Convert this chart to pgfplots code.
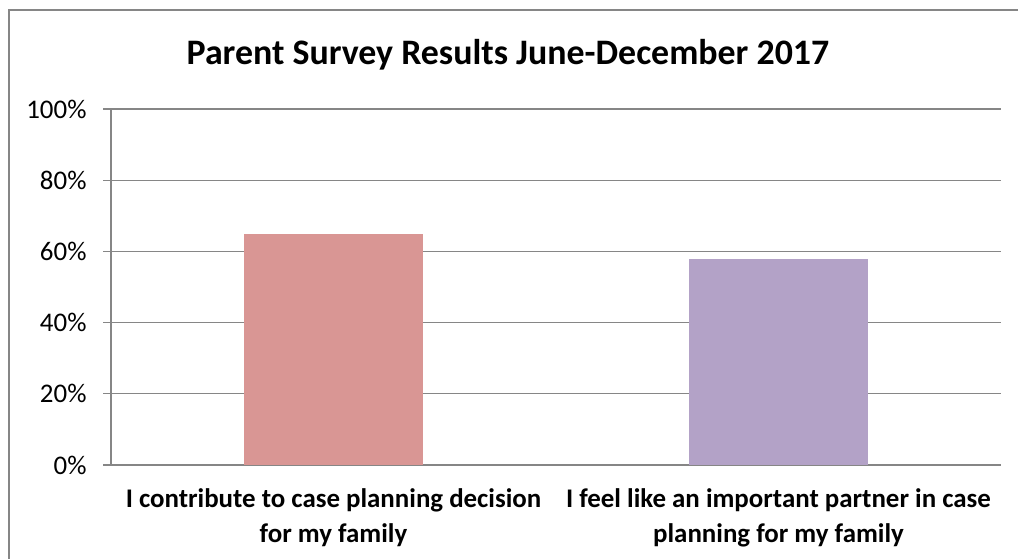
\documentclass[border=0pt]{standalone}
\usepackage{pgfplots}
\pgfplotsset{compat=1.18}
\usepackage{fontspec}
\setmainfont{Carlito}
\definecolor{barA}{HTML}{D99694}
\definecolor{barB}{HTML}{B3A2C7}
\definecolor{gridgray}{HTML}{868686}
\begin{document}
\begin{tikzpicture}
\useasboundingbox (-111bp,-94bp) rectangle (907bp,465bp);
\begin{axis}[
	anchor=south west, at={(0,0)},
	scale only axis,
	width=890bp, height=356bp,
	xmin=-0.5, xmax=1.5,
	ymin=0, ymax=100,
	axis x line=bottom, axis y line=left,
	axis line style={gridgray, line width=1.2bp, -},
	ytick={0,20,40,60,80,100},
	yticklabels={0\%,20\%,40\%,60\%,80\%,100\%},
	ymajorgrids,
	grid style={gridgray, line width=1.2bp},
	tick align=outside,
	major tick length=8bp,
	tick style={gridgray, line width=1.2bp},
	xtick={0,1},
	xticklabels={I contribute to case planning decision\\for my family,
		I feel like an important partner in case\\planning for my family},
	x tick style={draw=none},
	extra x ticks={-0.5,0.5,1.5},
	extra x tick labels={},
	extra x tick style={tick style={gridgray, line width=1.2bp}},
	xticklabel style={font=\fontsize{27}{35}\selectfont\bfseries, align=center, anchor=north, yshift=-12bp},
	yticklabel style={font=\fontsize{27}{32}\selectfont, xshift=-13bp},
	ybar, bar width=179bp,
	bar shift=0pt,
]
\addplot[fill=barA, draw=none] coordinates {(0,65)};
\addplot[fill=barB, draw=none] coordinates {(1,58)};
\end{axis}
\draw[gridgray, line width=1.5bp] (-102bp,-94bp) -- (-102bp,455bp) -- (907bp,455bp);
\node[anchor=base, font=\fontsize{36}{43}\selectfont\bfseries, inner sep=0pt] at (397bp,400bp) {Parent Survey Results June-December 2017};
\end{tikzpicture}
\end{document}
